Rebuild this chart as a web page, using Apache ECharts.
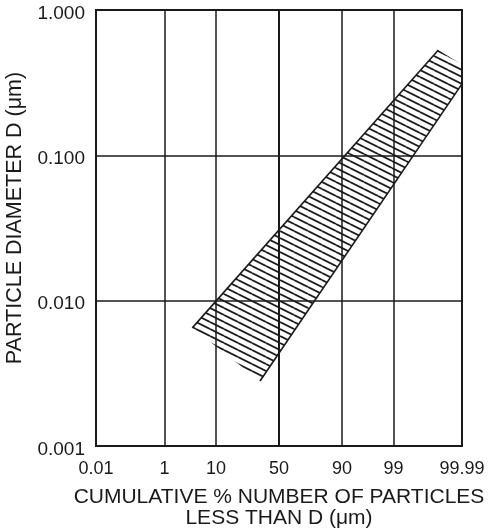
<!DOCTYPE html>
<html><head><meta charset="utf-8">
<script src="https://cdn.jsdelivr.net/npm/echarts@6/dist/echarts.min.js"></script>
<style>html,body{margin:0;padding:0;background:#fff}#c{width:493px;height:528px}</style>
</head><body><div id="c"></div>
<script>
// ---- data ----
const xTickPercent = [0.01, 1, 10, 50, 90, 99, 99.99];
const xTickLabels = ['0.01', '1', '10', '50', '90', '99', '99.99'];
const yTickLabels = ['0.001', '0.010', '0.100', '1.000'];
// hatched band outline: cumulative % and particle diameter (µm)
const bandPercent = [3.9, 99.94, 99.99, 99.99, 35];
const bandDiameter = [0.0065, 0.53, 0.42, 0.31, 0.0028];
// solid outline segments of the band (indices into the outline)
const upperEdge = [0, 1];
const lowerEdge = [3, 4];

// probability-scale transform (inverse normal CDF, Acklam)
function probit(p) {
  const a=[-3.969683028665376e+01,2.209460984245205e+02,-2.759285104469687e+02,1.383577518672690e+02,-3.066479806614716e+01,2.506628277459239e+00];
  const b=[-5.447609879822406e+01,1.615858368580409e+02,-1.556989798598866e+02,6.680131188771972e+01,-1.328068155288572e+01];
  const c=[-7.784894002430293e-03,-3.223964580411365e-01,-2.400758277161838e+00,-2.549732539343734e+00,4.374664141464968e+00,2.938163982698783e+00];
  const d=[7.784695709041462e-03,3.224671290700398e-01,2.445134137142996e+00,3.754408661907416e+00];
  const pl=0.02425, ph=1-pl; let q, r;
  if (p < pl) { q=Math.sqrt(-2*Math.log(p)); return (((((c[0]*q+c[1])*q+c[2])*q+c[3])*q+c[4])*q+c[5])/((((d[0]*q+d[1])*q+d[2])*q+d[3])*q+1); }
  if (p <= ph) { q=p-0.5; r=q*q; return (((((a[0]*r+a[1])*r+a[2])*r+a[3])*r+a[4])*r+a[5])*q/(((((b[0]*r+b[1])*r+b[2])*r+b[3])*r+b[4])*r+1); }
  q=Math.sqrt(-2*Math.log(1-p)); return -(((((c[0]*q+c[1])*q+c[2])*q+c[3])*q+c[4])*q+c[5])/((((d[0]*q+d[1])*q+d[2])*q+d[3])*q+1);
}
const z = pct => probit(pct / 100);
const xTickZ = xTickPercent.map(z);

// hatch pattern tile
const hatch = document.createElement('canvas');
hatch.width = 14; hatch.height = 7;
(function () {
  const ctx = hatch.getContext('2d');
  ctx.strokeStyle = '#1a1a1a'; ctx.lineWidth = 1.8;
  [-7, 0, 7].forEach(o => { ctx.beginPath(); ctx.moveTo(0, o); ctx.lineTo(14, o + 7); ctx.stroke(); });
})();

const ink = '#1a1a1a';
const font = 'Liberation Sans';
const chart = echarts.init(document.getElementById('c'), null, {renderer: 'canvas'});
chart.setOption({
  backgroundColor: '#fff',
  animation: false,
  grid: {left: 96, right: 31, top: 10, bottom: 82, show: true, borderColor: ink, borderWidth: 2,
         containLabel: false, outerBoundsMode: 'none'},
  xAxis: {
    type: 'value', min: z(0.01), max: z(99.99),
    axisLine: {show: true, lineStyle: {color: ink, width: 2}},
    axisTick: {show: false, customValues: xTickZ},
    axisLabel: {
      customValues: xTickZ, showMinLabel: true, showMaxLabel: true,
      color: ink, fontFamily: font, fontSize: 18, margin: 14,
      formatter: v => { let best = 0; xTickZ.forEach((t, i) => { if (Math.abs(t - v) < Math.abs(xTickZ[best] - v)) best = i; }); return xTickLabels[best]; }
    },
    splitLine: {show: true, lineStyle: {color: ink, width: 1.5}},
    name: 'CUMULATIVE % NUMBER OF PARTICLES\nLESS THAN D (μm)',
    nameLocation: 'middle', nameGap: 41,
    nameTextStyle: {color: ink, fontFamily: font, fontSize: 21, lineHeight: 21}
  },
  yAxis: {
    type: 'log', logBase: 10, min: 0.001, max: 1,
    axisLine: {show: true, lineStyle: {color: ink, width: 2}},
    axisTick: {show: false},
    minorTick: {show: false}, minorSplitLine: {show: false},
    axisLabel: {
      color: ink, fontFamily: font, fontSize: 19, margin: 11,
      formatter: v => '{a|' + yTickLabels[Math.round(Math.log10(v)) + 3] + '}',
      rich: {a: {color: ink, fontFamily: font, fontSize: 19, padding: [7, 0, 0, 0]}}
    },
    splitLine: {show: true, lineStyle: {color: ink, width: 1.5}},
    name: 'PARTICLE DIAMETER D (μm)',
    nameLocation: 'middle', nameGap: 66, nameRotate: 90,
    nameTextStyle: {color: ink, fontFamily: font, fontSize: 21.5, padding: [0, 0, 0, 20]}
  },
  series: [{
    type: 'custom',
    clip: false,
    data: [[0, 0.01]],
    renderItem: function (params, api) {
      const pts = bandPercent.map((p, i) => api.coord([z(p), bandDiameter[i]]));
      return {
        type: 'group',
        children: [
          {type: 'polygon', shape: {points: pts}, style: {fill: {image: hatch, repeat: 'repeat'}, stroke: null}},
          {type: 'polyline', shape: {points: upperEdge.map(i => pts[i])}, style: {stroke: ink, lineWidth: 1.6, fill: null}},
          {type: 'polyline', shape: {points: lowerEdge.map(i => pts[i])}, style: {stroke: ink, lineWidth: 1.6, fill: null}}
        ]
      };
    }
  }]
});
</script>
</body></html>
